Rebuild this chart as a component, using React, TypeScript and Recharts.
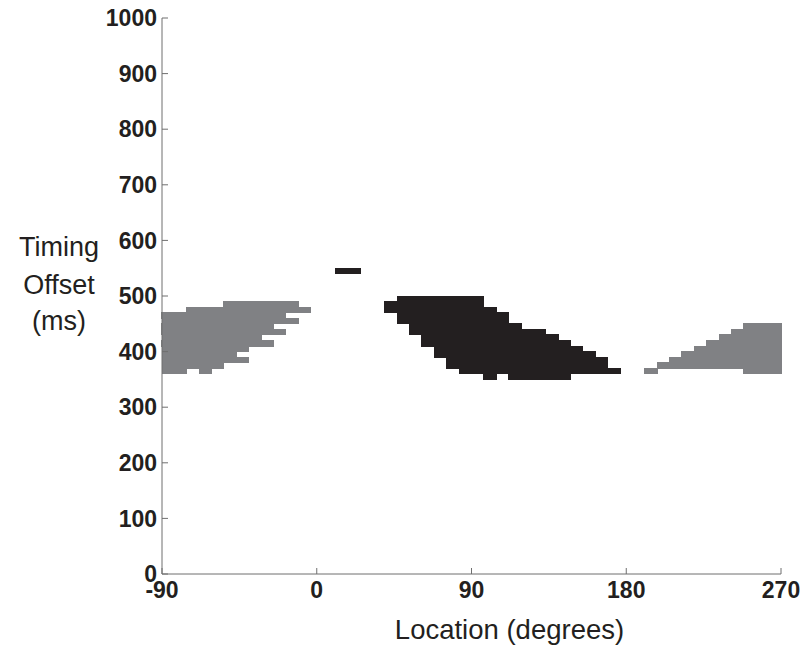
import React from "react";
import {
  ComposedChart,
  ReferenceArea,
  XAxis,
  YAxis,
} from "recharts";

// [ms at bottom of cell row, start deg, end deg]
type Run = [number, number, number];

const CELL_MS = 10;

const xTicks = [-90, 0, 90, 180, 270];
const yTicks = [0, 100, 200, 300, 400, 500, 600, 700, 800, 900, 1000];

const leftGrayRuns: Run[] = [
  [480, -54, -10.8],
  [470, -75.6, -3.6],
  [460, -90, -18],
  [450, -90, -10.8],
  [440, -90, -25.2],
  [430, -90, -18],
  [420, -90, -32.4],
  [410, -90, -25.2],
  [400, -90, -39.6],
  [390, -90, -46.8],
  [380, -90, -39.6],
  [370, -90, -54],
  [360, -90, -75.6],
  [360, -68.4, -61.2],
];

const blackRuns: Run[] = [
  [490, 46.8, 97.2],
  [480, 39.6, 97.2],
  [470, 39.6, 104.4],
  [460, 46.8, 111.6],
  [450, 46.8, 111.6],
  [440, 54, 118.8],
  [430, 54, 133.2],
  [420, 61.2, 140.4],
  [410, 61.2, 147.6],
  [400, 68.4, 154.8],
  [390, 68.4, 162],
  [380, 75.6, 169.2],
  [370, 75.6, 169.2],
  [360, 82.8, 176.4],
  [350, 97.2, 104.4],
  [350, 111.6, 147.6],
];

const blackBlip: Run[] = [[540, 10.8, 25.2]];

const rightGrayRuns: Run[] = [
  [440, 248.4, 270],
  [430, 241.2, 270],
  [420, 234, 270],
  [410, 226.8, 270],
  [400, 219.6, 270],
  [390, 212.4, 270],
  [380, 205.2, 270],
  [370, 198, 270],
  [360, 190.8, 198],
  [360, 248.4, 270],
];

const GRAY = "#808184";
const BLACK = "#231f20";
const AXIS = "#6f6f6f";
const FONT = "'Liberation Sans', Arial, Helvetica, sans-serif";

const tickStyle = { fill: BLACK, fontSize: 23, fontWeight: 700, fontFamily: FONT };

function runs(list: Run[], color: string, key: string) {
  return list.map(([ms, x1, x2], i) => (
    <ReferenceArea
      key={`${key}-${i}`}
      x1={x1}
      x2={x2}
      y1={ms}
      y2={ms + CELL_MS}
      fill={color}
      fillOpacity={1}
      stroke={color}
      strokeWidth={1}
      shapeRendering="crispEdges"
      ifOverflow="visible"
    />
  ));
}

const YTitle = () => (
  <g fontFamily={FONT} fontSize={27} fill={BLACK} textAnchor="middle">
    <text x={59} y={256}>Timing</text>
    <text x={59} y={294}>Offset</text>
    <text x={59} y={330}>(ms)</text>
  </g>
);

export default function App() {
  return (
    <div style={{ width: 805, height: 647, background: "#fff" }}>
      <style>{"body{margin:0}"}</style>
      <ComposedChart
        width={805}
        height={647}
        data={[]}
        margin={{ top: 18, right: 24, bottom: 0, left: 0 }}
      >
        <XAxis
          type="number"
          dataKey="x"
          domain={[-90, 270]}
          ticks={xTicks}
          allowDataOverflow
          height={73}
          tickSize={-6}
          tickMargin={14}
          stroke={AXIS}
          tick={tickStyle}
          label={{
            value: "Location (degrees)",
            position: "insideBottom",
            offset: 8,
            dx: 38,
            style: { fontSize: 27.5, fontFamily: FONT, fill: BLACK },
          }}
        />
        <XAxis
          xAxisId="top"
          orientation="top"
          type="number"
          domain={[-90, 270]}
          ticks={xTicks}
          height={0}
          tickSize={-6}
          tick={false}
          stroke={AXIS}
        />
        <YAxis
          type="number"
          dataKey="y"
          domain={[0, 1000]}
          ticks={yTicks}
          allowDataOverflow
          width={162}
          tickSize={-6}
          tickMargin={11}
          stroke={AXIS}
          tick={tickStyle}
          label={{ content: () => <YTitle /> }}
        />
        <YAxis
          yAxisId="right"
          orientation="right"
          type="number"
          domain={[0, 1000]}
          ticks={yTicks}
          width={0}
          tickSize={-6}
          tick={false}
          stroke={AXIS}
        />
        {runs(leftGrayRuns, GRAY, "lg")}
        {runs(rightGrayRuns, GRAY, "rg")}
        {runs(blackRuns, BLACK, "bk")}
        {runs(blackBlip, BLACK, "bb")}
      </ComposedChart>
    </div>
  );
}
